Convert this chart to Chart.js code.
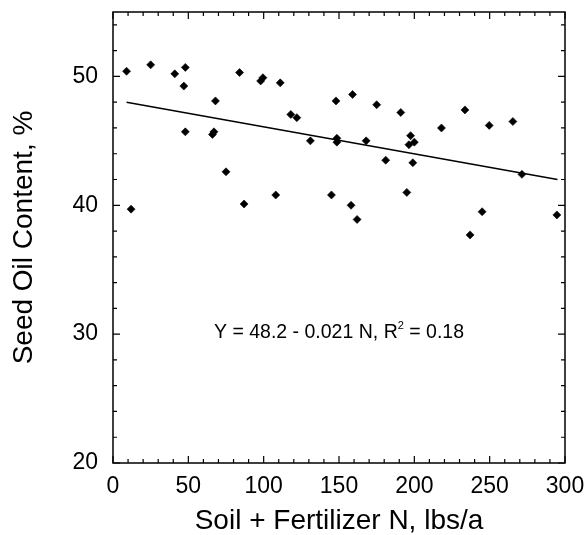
<!DOCTYPE html>
<html>
<head>
<meta charset="utf-8">
<script src="https://cdn.jsdelivr.net/npm/chart.js@4/dist/chart.umd.min.js"></script>
<style>
  body { margin: 0; background: #fff; }
  #wrap { width: 587px; height: 535px; position: relative; }
</style>
</head>
<body>
<div id="wrap"><canvas id="oilChart"></canvas></div>
<script>
// 読み取った値（N, 油分%）
const nValues = [9, 12, 25, 41, 48, 47, 48, 68, 66, 67, 75, 84, 87, 98, 99.5, 108, 111,
  118, 122, 131, 145, 148, 148.6, 148.6, 159, 158, 162, 168, 175, 181, 191, 195,
  197.5, 196.4, 200, 199, 218, 233.6, 237, 245, 249.7, 265.4, 271.4, 294.6];
const oilValues = [50.4, 39.7, 50.9, 50.2, 50.7, 49.25, 45.7, 48.1, 45.5, 45.7, 42.6, 50.3, 40.1, 49.65, 49.9, 40.8, 49.5,
  47.05, 46.8, 45.0, 40.8, 48.1, 45.2, 44.9, 48.6, 40.0, 38.9, 45.0, 47.8, 43.5, 47.2, 41.0,
  45.4, 44.7, 44.9, 43.3, 46.0, 47.4, 37.7, 39.5, 46.2, 46.5, 42.4, 39.25];

// 回帰直線の端点
const fitN = [9, 295];
const fitOil = [48.0, 42.0];

const xTicks = [0, 50, 100, 150, 200, 250, 300];
const yTicks = [20, 30, 40, 50];
const xMinorStep = 10;
const yMinorStep = 2;

const eqText = 'Y = 48.2 - 0.021 N, R';
const eqSup = '2';
const eqTail = ' = 0.18';

const FONT = "'Liberation Sans', Arial, Helvetica, sans-serif";

const points = nValues.map((n, i) => ({ x: n, y: oilValues[i] }));
const fitLine = fitN.map((n, i) => ({ x: n, y: fitOil[i] }));

// 枠と内向きの目盛り
const framePlugin = {
  id: 'frame',
  afterDraw(chart) {
    const { ctx, chartArea: a, scales: { x, y } } = chart;
    ctx.save();
    ctx.strokeStyle = '#000';
    ctx.lineWidth = 1.5;
    ctx.strokeRect(a.left, a.top, a.right - a.left, a.bottom - a.top);
    ctx.lineWidth = 1.2;
    ctx.beginPath();
    for (let v = x.min; v <= x.max; v += xMinorStep) {
      const px = x.getPixelForValue(v);
      const len = xTicks.includes(v) ? 7 : 4;
      ctx.moveTo(px, a.bottom); ctx.lineTo(px, a.bottom - len);
      ctx.moveTo(px, a.top); ctx.lineTo(px, a.top + len);
    }
    for (let v = y.min; v <= y.max; v += yMinorStep) {
      const py = y.getPixelForValue(v);
      const len = yTicks.includes(v) ? 7 : 4;
      ctx.moveTo(a.left, py); ctx.lineTo(a.left + len, py);
      ctx.moveTo(a.right, py); ctx.lineTo(a.right - len, py);
    }
    ctx.stroke();
    ctx.restore();
  }
};

// 回帰式の注記
const eqPlugin = {
  id: 'equation',
  afterDatasetsDraw(chart) {
    const { ctx, scales: { x, y } } = chart;
    const cx = x.getPixelForValue(150);
    const cy = y.getPixelForValue(30.1);
    ctx.save();
    ctx.fillStyle = '#000';
    ctx.textBaseline = 'middle';
    const main = '19.5px ' + FONT;
    const small = '11px ' + FONT;
    ctx.font = main;
    const w1 = ctx.measureText(eqText).width;
    const w3 = ctx.measureText(eqTail).width;
    ctx.font = small;
    const w2 = ctx.measureText(eqSup).width;
    let left = cx - (w1 + w2 + w3) / 2;
    ctx.font = main;
    ctx.fillText(eqText, left, cy);
    ctx.font = small;
    ctx.fillText(eqSup, left + w1, cy - 7);
    ctx.font = main;
    ctx.fillText(eqTail, left + w1 + w2, cy);
    ctx.restore();
  }
};

new Chart(document.getElementById('oilChart'), {
  type: 'scatter',
  data: {
    datasets: [{
      label: 'data',
      data: points,
      pointStyle: 'rectRot',
      pointRadius: 4,
      backgroundColor: '#000',
      borderColor: '#000',
      borderWidth: 0.6
    }, {
      type: 'line',
      label: 'fit',
      data: fitLine,
      borderColor: '#000',
      borderWidth: 1.5,
      pointRadius: 0,
      fill: false
    }]
  },
  options: {
    responsive: true,
    maintainAspectRatio: false,
    animation: false,
    layout: { padding: { top: 12, right: 22, left: 0, bottom: 0 } },
    plugins: { legend: { display: false }, tooltip: { enabled: false } },
    scales: {
      x: {
        type: 'linear',
        min: 0,
        max: 300,
        afterBuildTicks: s => { s.ticks = xTicks.map(v => ({ value: v })); },
        afterFit: s => { s.height = 72; s.paddingLeft = 0; s.paddingRight = 0; },
        grid: { display: false, drawTicks: false },
        border: { display: false },
        ticks: { color: '#000', padding: 10, maxRotation: 0, font: { family: FONT, size: 23 } },
        title: {
          display: true,
          text: 'Soil + Fertilizer N, lbs/a',
          color: '#000',
          font: { family: FONT, size: 28, lineHeight: 1 },
          padding: { top: 0, bottom: 0 }
        }
      },
      y: {
        type: 'linear',
        min: 20,
        max: 55,
        afterBuildTicks: s => { s.ticks = yTicks.map(v => ({ value: v })); },
        afterFit: s => { s.width = 113; s.paddingTop = 0; s.paddingBottom = 0; },
        grid: { display: false, drawTicks: false },
        border: { display: false },
        ticks: { color: '#000', padding: 15, font: { family: FONT, size: 23 } },
        title: {
          display: true,
          text: 'Seed Oil Content, %',
          color: '#000',
          font: { family: FONT, size: 28, lineHeight: 1 },
          padding: { top: 10, bottom: 0 }
        }
      }
    }
  },
  plugins: [framePlugin, eqPlugin]
});
</script>
</body>
</html>
